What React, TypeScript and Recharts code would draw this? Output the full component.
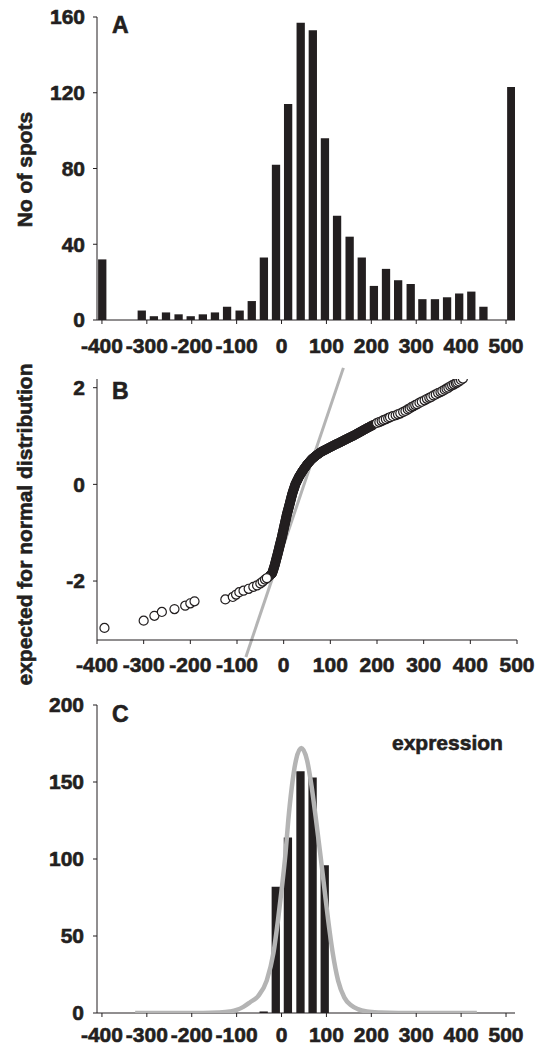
import {
  Bar,
  BarChart,
  Line,
  LineChart,
  ReferenceLine,
  Scatter,
  ScatterChart,
  XAxis,
  YAxis,
  ZAxis,
} from "recharts";

// A: histogram of spot values (bin centre -> number of spots)
const spotBins = [
  -400, -312, -285, -258, -230, -203, -176, -149, -122, -94, -67, -40, -13, 14,
  42, 69, 96, 123, 151, 178, 205, 232, 259, 287, 313, 341, 368, 395, 422, 449,
  511,
];
const spotCounts = [
  32, 5, 2, 4, 3, 2, 3, 4, 7, 5, 10, 33, 82, 114, 157, 153, 96, 55, 44, 33, 18,
  27, 21, 19, 11, 11, 12, 14, 15, 7, 123,
];

// C: spots counted as expression, with the fitted normal curve
const expressionBins = [-40, -13, 14, 42, 69, 96];
const expressionCounts = [1, 82, 114, 157, 153, 96];

const fitX = [
  -326, -250, -175, -140, -115, -100, -85, -70, -52, -33, -18, -8, 1, 9, 15, 23,
  32, 44, 57, 67, 77, 86, 95, 104, 114, 126, 140, 155, 170, 190, 220, 260, 350,
  435,
];
const fitY = [
  0, 0, 0, 0.3, 1, 2, 4, 7, 11, 21, 39, 60, 82, 104, 125, 147, 164, 172, 164,
  147, 125, 104, 82, 60, 39, 21, 10, 5, 2.5, 1, 0.3, 0, 0, 0,
];

// B: normal probability plot (observed value, expected quantile)
// spots in the tails, where single circles can be told apart
const qqTails: [number, number][] = [
  [-384, -2.97], [-300, -2.82], [-277, -2.72], [-261, -2.64], [-234, -2.58],
  [-211, -2.51], [-200, -2.46], [-191, -2.42], [-125, -2.38], [-109, -2.33],
  [-102, -2.28], [-95, -2.23], [-86, -2.2], [-75, -2.16], [-65, -2.12],
  [-57, -2.09], [-50, -2.05], [-45, -2.01], [-40, -1.97], [-36, -1.94],
  [200, 1.27], [205, 1.29], [210, 1.31], [214, 1.33], [219, 1.35], [224, 1.37],
  [228, 1.39], [234, 1.41], [240, 1.43], [245, 1.45], [250, 1.47], [256, 1.5],
  [261, 1.52], [266, 1.55], [270, 1.57], [274, 1.6], [278, 1.62], [282, 1.64],
  [286, 1.66], [291, 1.69], [296, 1.71], [302, 1.74], [307, 1.77], [312, 1.79],
  [316, 1.81], [321, 1.84], [326, 1.86], [331, 1.89], [336, 1.91], [340, 1.93],
  [345, 1.96], [349, 1.98], [353, 2.0], [357, 2.03], [361, 2.05], [365, 2.07],
  [369, 2.09], [372, 2.11], [376, 2.13], [380, 2.16], [384, 2.19],
];
// the crowded middle of the distribution
const qqCore: [number, number][] = [
  [-32, -1.91], [-29, -1.88],
  [-25, -1.85], [-24.2, -1.825], [-23.3, -1.8], [-22.5, -1.775], [-21.7, -1.75],
  [-20.8, -1.725], [-20, -1.7], [-19.3, -1.675], [-18.6, -1.65], [-17.9, -1.625],
  [-17.3, -1.6], [-16.6, -1.575], [-15.9, -1.55], [-15.2, -1.525], [-14.5, -1.5],
  [-13.8, -1.475], [-13.2, -1.45], [-12.5, -1.425], [-11.9, -1.4], [-11.2, -1.375],
  [-10.6, -1.35], [-9.9, -1.325], [-9.3, -1.3], [-8.7, -1.275], [-8, -1.25],
  [-7.4, -1.225], [-6.7, -1.2], [-6.1, -1.175], [-5.4, -1.15], [-4.8, -1.125],
  [-4.1, -1.1], [-3.5, -1.075], [-2.9, -1.05], [-2.4, -1.025], [-1.8, -1],
  [-1.2, -0.975], [-0.6, -0.95], [-0.1, -0.925], [0.5, -0.9], [1.1, -0.875],
  [1.6, -0.85], [2.2, -0.825], [2.8, -0.8], [3.4, -0.775], [3.9, -0.75],
  [4.5, -0.725], [5.1, -0.7], [5.7, -0.675], [6.2, -0.65], [6.8, -0.625],
  [7.4, -0.6], [8.2, -0.575], [8.9, -0.55], [9.6, -0.525], [10.3, -0.5],
  [10.9, -0.475], [11.6, -0.45], [12.3, -0.425], [13, -0.4], [13.7, -0.375],
  [14.3, -0.35], [15, -0.325], [15.6, -0.3], [16.3, -0.275], [16.9, -0.25],
  [17.6, -0.225], [18.2, -0.2], [19.1, -0.175], [19.9, -0.15], [20.8, -0.125],
  [21.6, -0.1], [22.5, -0.075], [23.3, -0.05], [24.2, -0.025], [25, 0],
  [26.1, 0.023], [27.3, 0.046], [28.4, 0.069], [29.6, 0.091], [30.7, 0.114],
  [31.9, 0.137], [33, 0.16], [34.3, 0.18], [35.6, 0.2], [36.9, 0.22],
  [38.1, 0.24], [39.4, 0.26], [40.7, 0.28], [42, 0.3], [43.5, 0.32], [45, 0.34],
  [46.5, 0.36], [48, 0.38], [49.5, 0.4], [51, 0.42], [52.8, 0.44], [54.6, 0.46],
  [56.4, 0.48], [58.2, 0.5], [60, 0.52], [62, 0.536], [64, 0.552], [66, 0.568],
  [68, 0.584], [70, 0.6], [72, 0.614], [74, 0.628], [76, 0.642], [78, 0.656],
  [80, 0.67], [82.5, 0.683], [85, 0.695], [87.5, 0.708], [90, 0.72],
  [92.5, 0.733], [95, 0.745], [97.5, 0.758], [100, 0.77], [102.5, 0.783],
  [105, 0.795], [107.5, 0.808], [110, 0.82], [112.8, 0.833], [115.5, 0.845],
  [118.3, 0.858], [121, 0.87], [123.3, 0.882], [125.7, 0.893], [128, 0.905],
  [130.3, 0.917], [132.7, 0.928], [135, 0.94], [137.5, 0.952], [140, 0.963],
  [142.5, 0.975], [145, 0.987], [147.5, 0.998], [150, 1.01], [152.5, 1.023],
  [155, 1.037], [157.5, 1.05], [160, 1.063], [162.5, 1.077], [165, 1.09],
  [167.5, 1.103], [170, 1.117], [172.5, 1.13], [175, 1.143], [177.5, 1.157],
  [180, 1.17], [183, 1.185], [186, 1.2], [189, 1.215], [192, 1.23],
];

// straight line expected for a normal distribution
const qqLineX = [-81, 128];
const qqLineY = [-3.57, 2.41];

const valueTicks = [-400, -300, -200, -100, 0, 100, 200, 300, 400, 500];
const spotTicks = [0, 40, 80, 120, 160];
const quantileTicks = [-2, 0, 2];
const expressionTicks = [0, 50, 100, 150, 200];

const spotRows = spotBins.map((x, i) => ({ x, count: spotCounts[i] }));
const expressionRows = expressionBins.map((x, i) => ({ x, count: expressionCounts[i] }));
const fitRows = fitX.map((x, i) => ({ x, y: fitY[i] }));
const toXY = (pairs: [number, number][]) => pairs.map(([x, y]) => ({ x, y }));

const INK = "#231f20";
const GREY = "#b4b4b4";
const FONT = '"Liberation Sans", Arial, Helvetica, sans-serif';
const heavy = { fontFamily: FONT, fontWeight: 700, fill: INK, stroke: INK, strokeWidth: 0.6 };

const ink = { stroke: INK, strokeWidth: 1 };

// bold tick label, placed where recharts puts its own
function BoldTick(props: any) {
  const { x, y, payload, textAnchor, verticalAnchor } = props;
  const dy = verticalAnchor === "start" ? "0.71em" : "0.355em";
  return (
    <g>
      <text x={x} y={y} dy={dy} textAnchor={textAnchor} fontSize={21} style={heavy}>
        {payload?.value}
      </text>
    </g>
  );
}

const boldTick = <BoldTick />;

export default function App() {
  return (
    <div
      style={{
        position: "absolute",
        left: 0,
        top: 0,
        width: 546,
        height: 1050,
        background: "#fff",
        fontFamily: FONT,
        fontWeight: 700,
      }}
    >
      {/* A */}
      <div style={{ position: "absolute", left: 0, top: 0 }}>
        <BarChart width={546} height={370} data={spotRows} margin={{ top: 17, right: 31, bottom: 20, left: 0 }}>
          <XAxis
            type="number"
            dataKey="x"
            domain={[-411, 520]}
            ticks={valueTicks}
            interval={0}
            allowDataOverflow
            height={30}
            tick={boldTick}
            tickSize={4}
            tickMargin={14}
            axisLine={ink}
            tickLine={ink}
          />
          <YAxis
            type="number"
            domain={[0, 160]}
            ticks={spotTicks}
            interval={0}
            width={97}
            tick={boldTick}
            tickSize={4}
            tickMargin={8}
            axisLine={ink}
            tickLine={ink}
          />
          <Bar dataKey="count" fill={INK} barSize={8.3} isAnimationActive={false} />
        </BarChart>
      </div>

      {/* B */}
      <div style={{ position: "absolute", left: 0, top: 350 }}>
        <ScatterChart width={546} height={340} margin={{ top: 29, right: 29, bottom: 20, left: 0 }}>
          <XAxis
            type="number"
            dataKey="x"
            domain={[-400, 500]}
            ticks={valueTicks}
            interval={0}
            allowDataOverflow
            height={30}
            tick={boldTick}
            tickSize={4}
            tickMargin={13}
            axisLine={ink}
            tickLine={ink}
          />
          <YAxis
            type="number"
            dataKey="y"
            domain={[-3.22, 2.18]}
            ticks={quantileTicks}
            interval={0}
            allowDataOverflow
            width={97}
            tick={boldTick}
            tickSize={4}
            tickMargin={8}
            axisLine={ink}
            tickLine={ink}
          />
          <ZAxis range={[58, 58]} />
          <Scatter data={toXY(qqCore)} fill={INK} stroke={INK} strokeWidth={1} isAnimationActive={false} />
          <Scatter data={toXY(qqTails)} fill="#ffffff" stroke={INK} strokeWidth={1.2} isAnimationActive={false} />
          <ReferenceLine
            segment={[
              { x: qqLineX[0], y: qqLineY[0] },
              { x: qqLineX[1], y: qqLineY[1] },
            ]}
            ifOverflow="visible"
            stroke={GREY}
            strokeWidth={3}
          />
        </ScatterChart>
      </div>

      {/* C */}
      <div style={{ position: "absolute", left: 0, top: 690 }}>
        <BarChart width={546} height={360} data={expressionRows} margin={{ top: 15, right: 31, bottom: 7, left: 0 }}>
          <XAxis
            type="number"
            dataKey="x"
            domain={[-411, 520]}
            ticks={valueTicks}
            interval={0}
            allowDataOverflow
            height={30}
            tick={boldTick}
            tickSize={4}
            tickMargin={10}
            axisLine={ink}
            tickLine={ink}
          />
          <YAxis
            type="number"
            domain={[0, 200]}
            ticks={expressionTicks}
            interval={0}
            width={97}
            tick={boldTick}
            tickSize={4}
            tickMargin={9}
            axisLine={ink}
            tickLine={ink}
          />
          <Bar dataKey="count" fill={INK} barSize={8.3} isAnimationActive={false} />
        </BarChart>
      </div>
      <div style={{ position: "absolute", left: 0, top: 690 }}>
        <LineChart width={546} height={360} data={fitRows} margin={{ top: 15, right: 31, bottom: 37, left: 97 }}>
          <XAxis hide type="number" dataKey="x" domain={[-411, 520]} allowDataOverflow />
          <YAxis hide type="number" domain={[0, 200]} allowDataOverflow />
          <Line
            type="monotone"
            dataKey="y"
            stroke={GREY}
            strokeWidth={4.5}
            dot={false}
            isAnimationActive={false}
          />
        </LineChart>
      </div>

      {/* panel letters and axis titles */}
      <svg
        width={546}
        height={1050}
        style={{ position: "absolute", left: 0, top: 0, pointerEvents: "none", ...heavy }}
      >
        <text x={112} y={32.5} fontSize={23}>A</text>
        <text x={112} y={399} fontSize={23}>B</text>
        <text x={112} y={722} fontSize={23}>C</text>
        <text x={392} y={750} fontSize={21}>expression</text>
        <text transform="translate(32 169.5) rotate(-90)" textAnchor="middle" fontSize={21}>
          No of spots
        </text>
        <text transform="translate(32 524.5) rotate(-90)" textAnchor="middle" fontSize={21}>
          expected for normal distribution
        </text>
      </svg>
    </div>
  );
}
